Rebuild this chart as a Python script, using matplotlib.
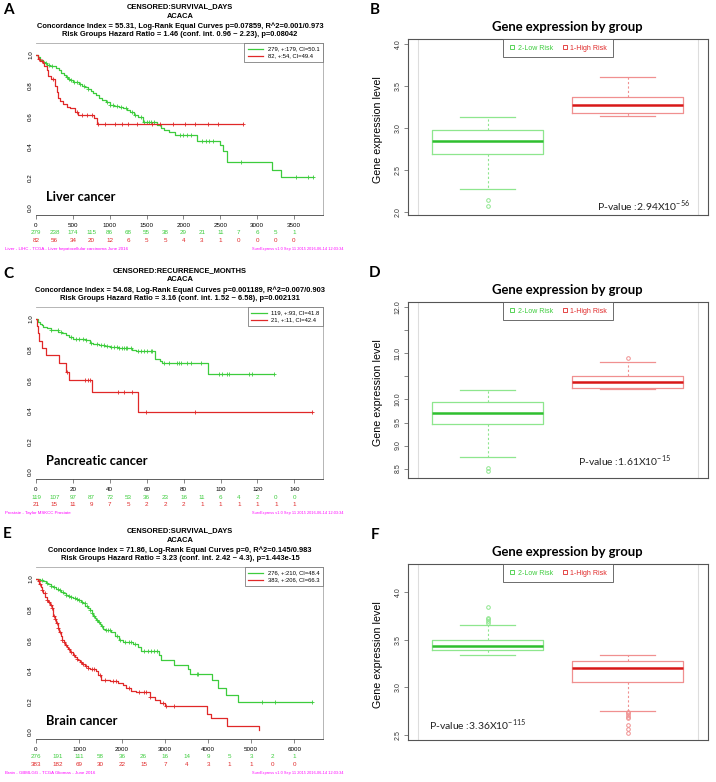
import numpy as np
import matplotlib
matplotlib.use("Agg")
import matplotlib.pyplot as plt
from matplotlib.lines import Line2D
from matplotlib.transforms import offset_copy

# ---------------- data ----------------
# A - liver cancer, survival days
a_lo_t = [0, 30, 60, 90, 120, 150, 190, 230, 270, 310, 345, 375, 405, 435, 465, 500, 540, 580, 620, 660,
          700, 740, 780, 820, 860, 900, 950, 1000, 1060, 1120, 1180, 1230, 1280, 1330, 1390, 1450, 1640,
          1690, 1740, 1800, 1880, 2180, 2500, 2540, 2590, 3200, 3330, 3760]
a_lo_s = [1.0, 0.985, 0.97, 0.955, 0.945, 0.935, 0.93, 0.925, 0.915, 0.90, 0.885, 0.87, 0.855, 0.845, 0.835,
          0.825, 0.82, 0.81, 0.80, 0.79, 0.775, 0.765, 0.75, 0.735, 0.72, 0.705, 0.69, 0.675, 0.665, 0.66,
          0.65, 0.64, 0.625, 0.61, 0.595, 0.565, 0.545, 0.525, 0.51, 0.495, 0.48, 0.44, 0.41, 0.37, 0.30,
          0.25, 0.20, 0.20]
a_lo_c = [130, 180, 220, 420, 450, 480, 520, 560, 600, 650, 700, 960, 1000, 1050, 1100, 1150, 1220, 1300,
          1350, 1420, 1470, 1500, 1530, 1560, 1600, 1950, 2000, 2050, 2100, 2250, 2300, 2350, 2400, 2780,
          3530, 3690, 3760]
a_hi_t = [0, 30, 60, 90, 110, 145, 165, 210, 255, 280, 300, 325, 370, 415, 460, 530, 575, 790, 823, 2810]
a_hi_s = [1.0, 0.975, 0.96, 0.945, 0.93, 0.90, 0.865, 0.84, 0.80, 0.76, 0.72, 0.70, 0.68, 0.66, 0.65, 0.63,
          0.61, 0.59, 0.55, 0.55]
a_hi_c = [40, 80, 235, 552, 620, 690, 755, 846, 936, 1072, 1162, 1253, 1366, 1569, 1687, 1863, 2022, 2157,
          2338, 2474, 2810]
a_risk_x = [0, 250, 500, 750, 1000, 1250, 1500, 1750, 2000, 2250, 2500, 2750, 3000, 3250, 3500]
a_risk_lo = [279, 238, 174, 115, 86, 68, 55, 38, 29, 21, 11, 7, 6, 5, 1]
a_risk_hi = [82, 56, 34, 20, 12, 6, 5, 5, 4, 3, 1, 0, 0, 0, 0]

# C - pancreatic cancer, recurrence months
c_lo_t = [0, 1, 2, 3, 4, 6, 8, 10, 12, 14, 16, 18, 20, 27, 29, 31, 34, 37, 40, 45, 52, 54, 64.5, 67, 68.5,
          93, 129]
c_lo_s = [1.0, 0.98, 0.97, 0.96, 0.95, 0.94, 0.93, 0.925, 0.915, 0.905, 0.895, 0.885, 0.87, 0.86, 0.845,
          0.835, 0.83, 0.82, 0.815, 0.81, 0.80, 0.79, 0.74, 0.725, 0.71, 0.64, 0.64]
c_lo_c = [8.1, 11.7, 13.5, 18.9, 21.6, 23.4, 25.2, 27, 29.7, 33.3, 35.1, 36.9, 38.7, 40.5, 42.3, 44.1, 45,
          46.8, 47.7, 48.6, 49.5, 51.4, 55, 56.8, 58.6, 60.4, 62.2, 63, 69.4, 72, 76.6, 77.5, 78.4, 82,
          83.8, 89.2, 99, 100.9, 103.6, 104.5, 115.3, 117.1, 128.8]
c_hi_t = [0, 0.5, 1, 1.5, 3.5, 5.5, 12.5, 16.5, 18, 30.5, 55.5, 149.5]
c_hi_s = [1.0, 0.952, 0.905, 0.857, 0.81, 0.762, 0.714, 0.655, 0.60, 0.524, 0.393, 0.393]
c_hi_c = [16.8, 26.5, 28, 29.3, 44.5, 47.5, 52, 59.5, 86, 149.5]
c_risk_x = [0, 10, 20, 30, 40, 50, 60, 70, 80, 90, 100, 110, 120, 130, 140]
c_risk_lo = [119, 107, 97, 87, 72, 53, 36, 23, 16, 11, 6, 4, 2, 0, 0]
c_risk_hi = [21, 15, 11, 9, 7, 5, 2, 2, 2, 1, 1, 1, 1, 1, 1]

# E - brain cancer, survival days
e_lo_t = [0, 90, 170, 240, 285, 340, 400, 460, 517, 575, 633, 690, 750, 810, 865, 920, 980, 1040, 1095,
          1150, 1212, 1250, 1290, 1330, 1367, 1405, 1444, 1480, 1521, 1560, 1600, 1753, 1830, 1930, 2023,
          2255, 2370, 2448, 2860, 2911, 3197, 3530, 3570, 4085, 4224, 4420, 4700, 6420]
e_lo_s = [1.0, 0.99, 0.985, 0.975, 0.965, 0.955, 0.945, 0.935, 0.925, 0.915, 0.905, 0.895, 0.89, 0.885,
          0.875, 0.87, 0.86, 0.85, 0.84, 0.825, 0.81, 0.795, 0.78, 0.76, 0.745, 0.73, 0.72, 0.705, 0.69,
          0.675, 0.665, 0.65, 0.625, 0.60, 0.59, 0.575, 0.555, 0.53, 0.505, 0.47, 0.44, 0.41, 0.38, 0.34,
          0.29, 0.24, 0.195, 0.195]
e_lo_c = [150, 250, 350, 420, 500, 560, 620, 700, 760, 820, 900, 950, 1010, 1060, 1130, 1180, 1260, 1310,
          1350, 1420, 1470, 1540, 1620, 1680, 1720, 1880, 1960, 2080, 2150, 2200, 2300, 2520, 2600, 2680,
          2750, 2820, 3740, 3770, 5250, 5550, 6420]
e_hi_t = [0, 40, 77, 105, 131, 170, 208, 250, 286, 325, 363, 402, 430, 463, 500, 540, 570, 595, 640, 672,
          710, 749, 800, 865, 900, 942, 980, 1019, 1080, 1135, 1200, 1251, 1405, 1444, 1521, 1714, 1907,
          2023, 2100, 2216, 2332, 2641, 2757, 2873, 2988, 3969, 4070, 4432, 5174]
e_hi_s = [1.0, 0.985, 0.97, 0.95, 0.93, 0.905, 0.88, 0.865, 0.85, 0.83, 0.81, 0.76, 0.735, 0.71, 0.68,
          0.65, 0.625, 0.60, 0.585, 0.57, 0.555, 0.54, 0.52, 0.50, 0.49, 0.48, 0.47, 0.46, 0.445, 0.43,
          0.415, 0.41, 0.40, 0.37, 0.34, 0.33, 0.32, 0.31, 0.29, 0.27, 0.26, 0.23, 0.21, 0.19, 0.17, 0.12,
          0.09, 0.04, 0.01]
e_hi_c = [60, 90, 150, 200, 260, 300, 340, 380, 420, 450, 480, 520, 560, 600, 650, 700, 760, 820, 880,
          960, 1050, 1100, 1160, 1220, 1300, 1350, 1480, 1600, 1800, 1850, 2150, 2400, 2500, 2550, 2650,
          2950, 3030, 3200]
e_risk_x = [0, 500, 1000, 1500, 2000, 2500, 3000, 3500, 4000, 4500, 5000, 5500, 6000]
e_risk_lo = [276, 191, 111, 58, 36, 26, 16, 14, 9, 5, 3, 2, 1]
e_risk_hi = [383, 182, 69, 30, 22, 15, 7, 4, 3, 1, 1, 0, 0]

# boxplot stats: whislo, q1, med, q3, whishi, fliers  (low risk, high risk)
b_low = [2.272, 2.687, 2.843, 2.971, 3.134, [2.148, 2.070]]
b_high = [3.138, 3.184, 3.270, 3.371, 3.604, []]
d_low = [8.755, 9.469, 9.697, 9.954, 10.205, [8.51, 8.44]]
d_high = [10.22, 10.256, 10.38, 10.506, 10.81, [10.91]]
f_low = [3.341, 3.391, 3.438, 3.499, 3.66, [3.85, 3.73, 3.72, 3.70, 3.68]]
f_high = [2.75, 3.062, 3.202, 3.277, 3.341, [2.745, 2.73, 2.71, 2.69, 2.68, 2.60, 2.56, 2.525]]

GREEN = "#3dcc3d"
RED = "#e02828"
MAGENTA = "#ff00ff"
W, H = 716, 782
R_FONT = ["Liberation Sans", "DejaVu Sans"]
C_FONT = ["Lato", "DejaVu Sans"]

plt.rcParams["font.family"] = R_FONT


def px_axes(fig, left, top, right, bottom):
    # axes placed by pixel box
    return fig.add_axes([left / W, 1 - bottom / H, (right - left) / W, (bottom - top) / H])


def ftext(fig, x, y, s, **kw):
    return fig.text(x / W, 1 - y / H, s, **kw)


def surv_at(t, s, c):
    idx = np.searchsorted(t, c, side="right") - 1
    return np.asarray(s)[idx]


def km_panel(fig, top, letter, titles, lo, hi, xmax, xticks, risk_x, risk_lo, risk_hi,
             leg_labels, cancer, foot_left):
    y1 = top + 48
    ax = px_axes(fig, 36, y1 - 12, 323, y1 + 160)
    for (t, s, c), col in ((lo, GREEN), (hi, RED)):
        ax.step(t, s, where="post", color=col, lw=0.9)
        ax.plot(c, surv_at(t, s, c), "+", color=col, ms=3, mew=0.6)
    ax.set_xlim(0, xmax)
    ax.set_ylim(-0.046, 1.078)
    ax.set_xticks(xticks)
    ax.set_xticklabels([str(v) for v in xticks])
    ax.set_yticks([0, 0.2, 0.4, 0.6, 0.8, 1.0])
    ax.set_yticklabels(["0.0", "0.2", "0.4", "0.6", "0.8", "1.0"], rotation=90, va="center")
    ax.tick_params(axis="x", labelsize=4.5, length=3, width=0.5, color="#555", pad=2.5)
    ax.tick_params(axis="y", labelsize=4.5, length=0, pad=2)
    for side in ["top", "right"]:
        ax.spines[side].set_color("#aaa")
        ax.spines[side].set_linewidth(0.6)
    ax.spines["left"].set_visible(False)
    ax.spines["bottom"].set_color("#444")
    ax.spines["bottom"].set_linewidth(0.6)

    handles = [Line2D([], [], color=GREEN, lw=0.9), Line2D([], [], color=RED, lw=0.9)]
    leg = ax.legend(handles, leg_labels, loc="upper right", borderaxespad=0, fontsize=4.2,
                    fancybox=False, edgecolor="#666", framealpha=1, handlelength=2.6,
                    borderpad=0.6, labelspacing=0.35, handletextpad=0.8)
    leg.get_frame().set_linewidth(0.5)

    # numbers at risk under the x axis
    for dy, vals, col in ((-18, risk_lo, GREEN), (-25, risk_hi, RED)):
        tr = offset_copy(ax.get_xaxis_transform(), fig=fig, y=dy, units="dots")
        for x, v in zip(risk_x, vals):
            ax.text(x, 0, str(v), transform=tr, ha="center", va="center", fontsize=4.5, color=col)

    for i, line in enumerate(titles):
        ftext(fig, 180, top + [0, 9, 19, 28][i], line, ha="center", va="center",
              fontsize=5.4, fontweight="bold")
    ftext(fig, 3, top + 3, letter, ha="left", va="center", fontsize=11, fontweight="bold", family=C_FONT)
    ftext(fig, 46, y1 + 146, cancer, ha="left", va="baseline", fontsize=9.3, fontweight="bold",
          family=C_FONT)
    ftext(fig, 5, y1 + 194, foot_left, ha="left", va="center", fontsize=3.2, color=MAGENTA)
    ftext(fig, 344, y1 + 194, "SurvExpress v1.0 Sep 11 2015 2016-06-14 12:03:34", ha="right",
          va="center", fontsize=2.8, color=MAGENTA)
    return ax


def box_panel(fig, top, letter, low, high, ylim, yticks, ylabels, pval, pval_xy):
    ax = px_axes(fig, 408, top + 12, 708, top + 188)
    stats = []
    for st in (low, high):
        stats.append(dict(whislo=st[0], q1=st[1], med=st[2], q3=st[3], whishi=st[4], fliers=st[5]))
    for i, (st, col, light) in enumerate(((stats[0], "#2fbf2f", "#8ee68e"),
                                          (stats[1], "#d81818", "#f09090"))):
        ax.bxp([st], positions=[i + 1], widths=0.79, showfliers=True,
               boxprops=dict(color=light, lw=0.9),
               medianprops=dict(color=col, lw=1.8),
               whiskerprops=dict(color=light, lw=0.8, ls=(0, (2, 2))),
               capprops=dict(color=light, lw=0.9),
               flierprops=dict(marker="o", mfc="none", mec=light, ms=2.6, mew=0.7))
    ax.axvline(0.5, color="#dddddd", lw=0.8)
    ax.axvline(2.5, color="#dddddd", lw=0.8)
    ax.set_xlim(0.432, 2.575)
    ax.set_ylim(*ylim)
    ax.set_xticks([])
    ax.set_yticks(yticks)
    ax.set_yticklabels(ylabels, rotation=90, va="center")
    ax.tick_params(axis="y", labelsize=5, length=3, width=0.5, color="#555", pad=1.5, labelcolor="#333")
    for sp in ax.spines.values():
        sp.set_color("#555")
        sp.set_linewidth(0.8)

    handles = [Line2D([], [], ls="none", marker="s", mfc="none", mec=GREEN, ms=2.5, mew=0.6),
               Line2D([], [], ls="none", marker="s", mfc="none", mec=RED, ms=2.5, mew=0.6)]
    leg = ax.legend(handles, ["2-Low Risk", "1-High Risk"], loc="upper center", ncol=2,
                    borderaxespad=0, fontsize=5, fancybox=False, edgecolor="#555", framealpha=1,
                    handlelength=1.0, handletextpad=0.3, columnspacing=1.2, borderpad=0.8)
    leg.get_frame().set_linewidth(0.6)
    for txt, col in zip(leg.get_texts(), [GREEN, RED]):
        txt.set_color(col)

    ftext(fig, 567, top, "Gene expression by group", ha="center", va="center", fontsize=9.4,
          fontweight="bold", family=C_FONT)
    ftext(fig, 375, top - 17, letter, ha="center", va="center", fontsize=11, fontweight="bold",
          family=C_FONT)
    ftext(fig, 378, top + 103, "Gene expression level", ha="center", va="center", rotation=90,
          fontsize=7.7)
    ftext(fig, pval_xy[0], pval_xy[1], pval, ha="left", va="baseline", fontsize=7.5, family=C_FONT,
          color="#222")
    return ax


def main():
    fig = plt.figure(figsize=(W / 100, H / 100), dpi=100)

    km_panel(fig, 7, "A",
             ["CENSORED:SURVIVAL_DAYS", "ACACA",
              "Concordance Index = 55.31, Log-Rank Equal Curves p=0.07859, R^2=0.001/0.973",
              "Risk Groups Hazard Ratio = 1.46 (conf. int. 0.96 ~ 2.23), p=0.08042"],
             (a_lo_t, a_lo_s, a_lo_c), (a_hi_t, a_hi_s, a_hi_c), 3894,
             [0, 500, 1000, 1500, 2000, 2500, 3000, 3500], a_risk_x, a_risk_lo, a_risk_hi,
             ["279, +:179, CI=50.1", "82, +:54, CI=49.4"], "Liver cancer",
             "Liver - LIHC - TCGA - Liver hepatocellular carcinoma June 2016")
    km_panel(fig, 271, "C",
             ["CENSORED:RECURRENCE_MONTHS", "ACACA",
              "Concordance Index = 54.68, Log-Rank Equal Curves p=0.001189, R^2=0.007/0.903",
              "Risk Groups Hazard Ratio = 3.16 (conf. int. 1.52 ~ 6.58), p=0.002131"],
             (c_lo_t, c_lo_s, c_lo_c), (c_hi_t, c_hi_s, c_hi_c), 155.5,
             [0, 20, 40, 60, 80, 100, 120, 140], c_risk_x, c_risk_lo, c_risk_hi,
             ["119, +:93, CI=41.8", "21, +:11, CI=42.4"], "Pancreatic cancer",
             "Prostate - Taylor MSKCC Prostate")
    km_panel(fig, 531, "E",
             ["CENSORED:SURVIVAL_DAYS", "ACACA",
              "Concordance Index = 71.86, Log-Rank Equal Curves p=0, R^2=0.145/0.983",
              "Risk Groups Hazard Ratio = 3.23 (conf. int. 2.42 ~ 4.3), p=1.443e-15"],
             (e_lo_t, e_lo_s, e_lo_c), (e_hi_t, e_hi_s, e_hi_c), 6670,
             [0, 1000, 2000, 3000, 4000, 5000, 6000], e_risk_x, e_risk_lo, e_risk_hi,
             ["276, +:210, CI=48.4", "383, +:206, CI=66.3"], "Brain cancer",
             "Brain - GBMLGG - TCGA Gliomas - June 2016")

    box_panel(fig, 27, "B", b_low, b_high, (1.964, 4.06), [2.0, 2.5, 3.0, 3.5, 4.0],
              ["2.0", "2.5", "3.0", "3.5", "4.0"],
              r"P-value :2.94X10$^{\mathregular{-56}}$", (597, 211))
    box_panel(fig, 290, "D", d_low, d_high, (8.295, 12.117),
              [8.5, 9.0, 9.5, 10.0, 10.5, 11.0, 11.5, 12.0],
              ["8.5", "9.0", "9.5", "10.0", "", "11.0", "", "12.0"],
              r"P-value :1.61X10$^{\mathregular{-15}}$", (578, 466))
    box_panel(fig, 552, "F", f_low, f_high, (2.446, 4.30), [2.5, 3.0, 3.5, 4.0],
              ["2.5", "3.0", "3.5", "4.0"],
              r"P-value :3.36X10$^{\mathregular{-115}}$", (429, 730))

    fig.savefig("out.png", dpi=100, facecolor="white")


if __name__ == "__main__":
    main()
